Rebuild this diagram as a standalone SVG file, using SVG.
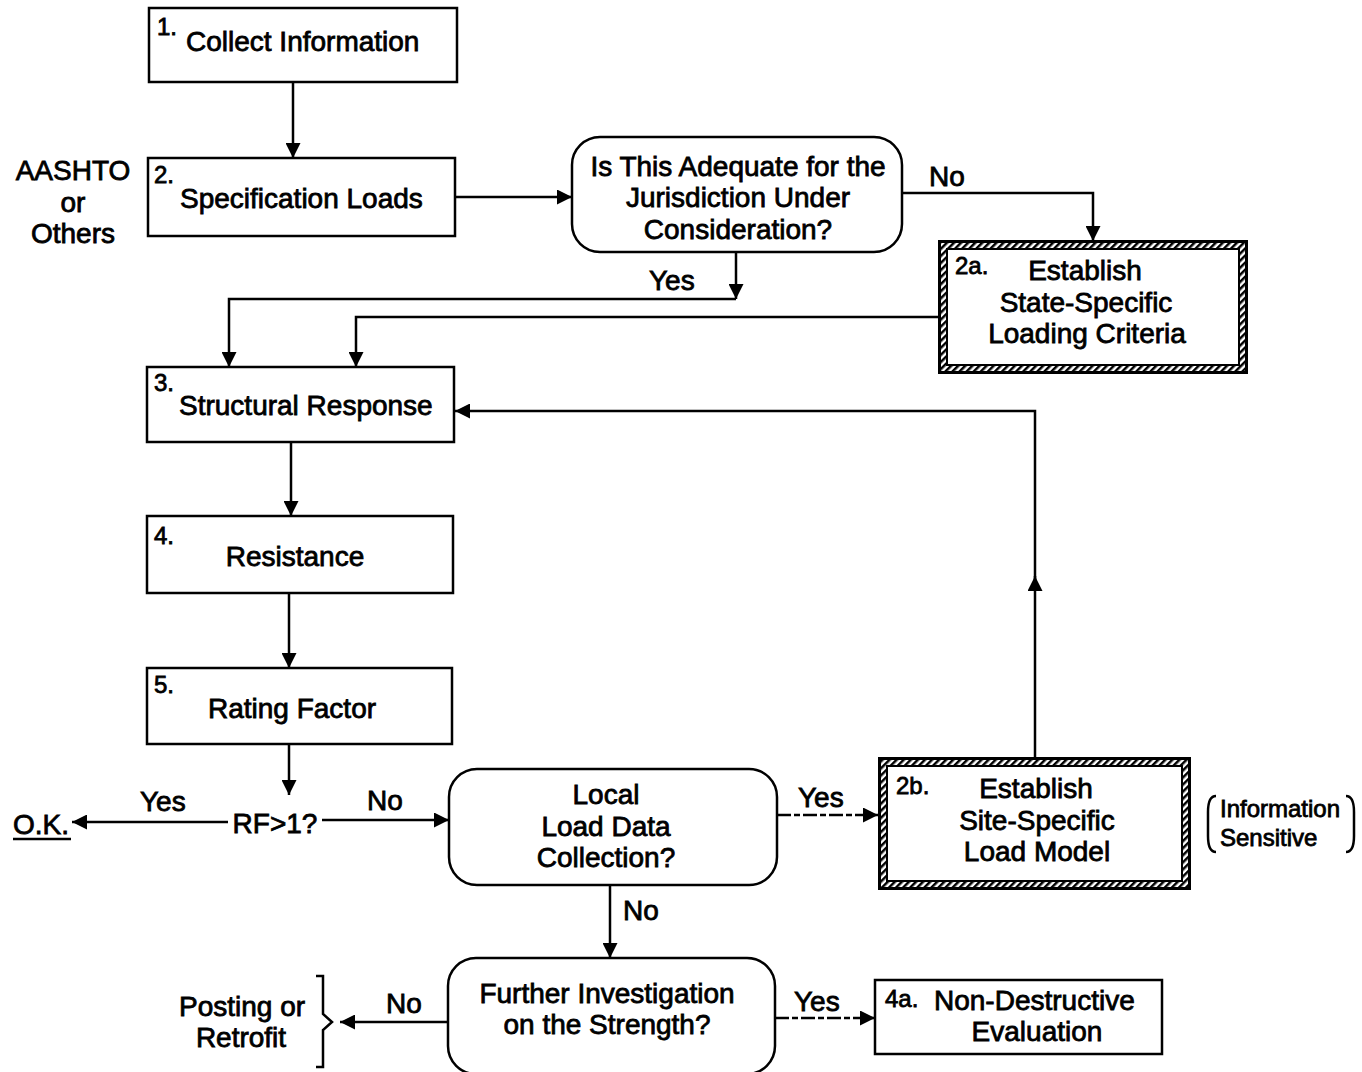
<svg xmlns="http://www.w3.org/2000/svg" width="1362" height="1072" viewBox="0 0 1362 1072">
  <defs>
    <style>
      .box { fill: #fff; stroke: #000; stroke-width: 2.5; }
      .line { fill: none; stroke: #000; stroke-width: 2.5; }
      .dash { fill: none; stroke: #000; stroke-width: 2.5; stroke-dasharray: 14 3 6 3; }
      text { font-family: "Liberation Sans", Arial, sans-serif; font-size: 28px; fill: #000; stroke: #000; stroke-width: 0.8; }
      .c { text-anchor: middle; }
      .num { font-size: 24px; }
      .sm { font-size: 24px; }
      .hatch { fill: url(#hatch); stroke: none; }
    </style>
    <marker id="arrow" viewBox="0 0 10 10" refX="10" refY="5" markerWidth="20" markerHeight="15" markerUnits="userSpaceOnUse" orient="auto">
      <path d="M0,0 L10,5 L0,10 Z" fill="#000"/>
    </marker>
    <pattern id="hatch" width="5" height="5" patternUnits="userSpaceOnUse" patternTransform="rotate(45)">
      <rect width="5" height="5" fill="#fff"/>
      <rect width="2.5" height="5" fill="#000"/>
    </pattern>
  </defs>

  <!-- connectors -->
  <g id="connectors">
    <path class="line" d="M293,82 V158" marker-end="url(#arrow)"/>
    <path class="line" d="M455,197 H572" marker-end="url(#arrow)"/>
    <path class="line" d="M902,193 H1093 V241" marker-end="url(#arrow)"/>
    <path class="line" d="M736,252 V299" marker-end="url(#arrow)"/>
    <path class="line" d="M736,299 H229 V367" marker-end="url(#arrow)"/>
    <path class="line" d="M938,317 H356 V367" marker-end="url(#arrow)"/>
    <path class="line" d="M291,442 V516" marker-end="url(#arrow)"/>
    <path class="line" d="M289,593 V668" marker-end="url(#arrow)"/>
    <path class="line" d="M289,744 V795" marker-end="url(#arrow)"/>
    <path class="line" d="M228,822 H72" marker-end="url(#arrow)"/>
    <path class="line" d="M322,820 H449" marker-end="url(#arrow)"/>
    <path class="dash" d="M777,815 H878" marker-end="url(#arrow)"/>
    <path class="line" d="M610,885 V958" marker-end="url(#arrow)"/>
    <path class="line" d="M1035,757 V576" marker-end="url(#arrow)"/>
    <path class="line" d="M1035,580 V411 H455" marker-end="url(#arrow)"/>
    <path class="line" d="M448,1022 H340" marker-end="url(#arrow)"/>
    <path class="dash" d="M775,1018 H875" marker-end="url(#arrow)"/>
  </g>

  <!-- side annotations -->
  <g id="aashto">
    <text class="c" x="73" y="180">AASHTO</text>
    <text class="c" x="73" y="212">or</text>
    <text class="c" x="73" y="243">Others</text>
  </g>

  <g id="n1">
    <rect class="box" x="149" y="8" width="308" height="74"/>
    <text class="num" x="157" y="35">1.</text>
    <text x="186" y="51">Collect Information</text>
  </g>

  <g id="n2">
    <rect class="box" x="148" y="158" width="307" height="78"/>
    <text class="num" x="154" y="183">2.</text>
    <text x="180" y="208">Specification Loads</text>
  </g>

  <g id="d1">
    <rect class="box" x="572" y="137" width="330" height="115" rx="28"/>
    <text class="c" x="738" y="176">Is This Adequate for the</text>
    <text class="c" x="738" y="207">Jurisdiction Under</text>
    <text class="c" x="738" y="239">Consideration?</text>
  </g>
  <text x="929" y="186">No</text>
  <text x="649" y="290">Yes</text>

  <g id="n2a">
    <rect x="938" y="240" width="310" height="134" fill="#000"/>
    <rect class="hatch" x="941" y="243" width="304" height="128"/>
    <rect x="947" y="249" width="292" height="116" fill="#fff" stroke="#000" stroke-width="2"/>
    <text class="num" x="955" y="274">2a.</text>
    <text class="c" x="1085" y="280">Establish</text>
    <text class="c" x="1086" y="312">State-Specific</text>
    <text class="c" x="1087" y="343">Loading Criteria</text>
  </g>

  <g id="n3">
    <rect class="box" x="147" y="367" width="307" height="75"/>
    <text class="num" x="154" y="391">3.</text>
    <text x="179" y="415">Structural Response</text>
  </g>

  <g id="n4">
    <rect class="box" x="147" y="516" width="306" height="77"/>
    <text class="num" x="154" y="544">4.</text>
    <text class="c" x="295" y="566">Resistance</text>
  </g>

  <g id="n5">
    <rect class="box" x="147" y="668" width="305" height="76"/>
    <text class="num" x="154" y="693">5.</text>
    <text class="c" x="292" y="718">Rating Factor</text>
  </g>

  <g id="rf">
    <text class="c" x="275" y="833">RF&gt;1?</text>
  </g>
  <text x="140" y="811">Yes</text>
  <text x="367" y="810">No</text>
  <g id="ok">
    <text x="13" y="834">O.K.</text>
    <path class="line" d="M13,839 H71"/>
  </g>

  <g id="d2">
    <rect class="box" x="449" y="769" width="328" height="116" rx="28"/>
    <text class="c" x="606" y="804">Local</text>
    <text class="c" x="606" y="836">Load Data</text>
    <text class="c" x="606" y="867">Collection?</text>
  </g>
  <text x="798" y="807">Yes</text>
  <text x="623" y="920">No</text>

  <g id="n2b">
    <rect x="878" y="757" width="313" height="133" fill="#000"/>
    <rect class="hatch" x="881" y="760" width="307" height="127"/>
    <rect x="887" y="766" width="295" height="115" fill="#fff" stroke="#000" stroke-width="2"/>
    <text class="num" x="896" y="794">2b.</text>
    <text class="c" x="1036" y="798">Establish</text>
    <text class="c" x="1037" y="830">Site-Specific</text>
    <text class="c" x="1037" y="861">Load Model</text>
  </g>

  <g id="info">
    <path class="line" d="M1216,796 Q1208,796 1208,812 V836 Q1208,852 1216,852"/>
    <path class="line" d="M1346,796 Q1354,796 1354,812 V836 Q1354,852 1346,852"/>
    <text class="sm" x="1220" y="817">Information</text>
    <text class="sm" x="1220" y="846">Sensitive</text>
  </g>

  <g id="d3">
    <rect class="box" x="448" y="958" width="327" height="116" rx="28"/>
    <text class="c" x="607" y="1003">Further Investigation</text>
    <text class="c" x="607" y="1034">on the Strength?</text>
  </g>
  <text x="386" y="1013">No</text>
  <text x="794" y="1011">Yes</text>

  <g id="n4a">
    <rect class="box" x="875" y="980" width="287" height="74"/>
    <text class="num" x="885" y="1007">4a.</text>
    <text x="934" y="1010">Non-Destructive</text>
    <text class="c" x="1037" y="1041">Evaluation</text>
  </g>

  <g id="posting">
    <text class="c" x="242" y="1016">Posting or</text>
    <text class="c" x="241" y="1047">Retrofit</text>
    <path class="line" d="M316,976 H323 V1014 L332,1022 L323,1030 V1067 H316"/>
  </g>
</svg>
